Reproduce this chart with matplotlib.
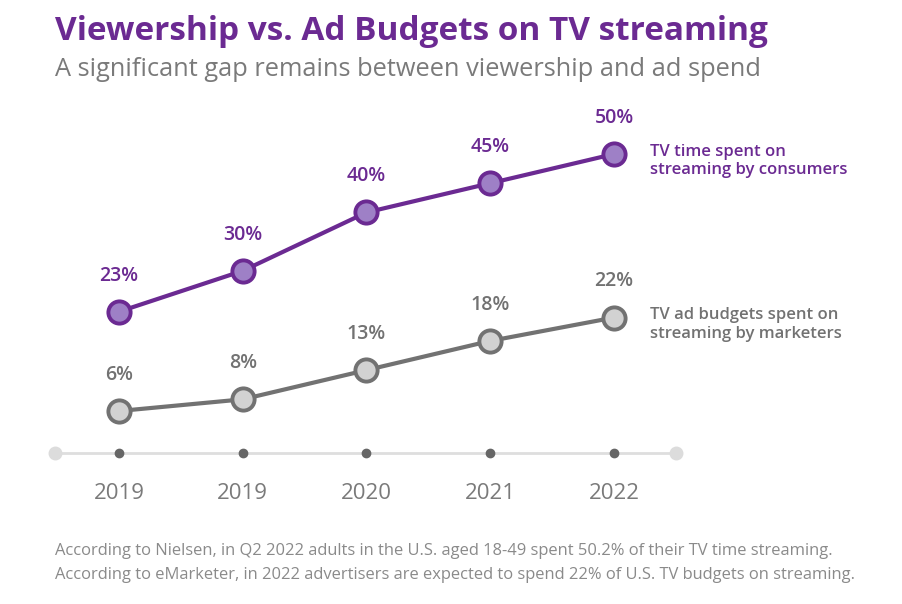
import numpy as np
import matplotlib.pyplot as plt

plt.rcParams['font.family'] = ['Open Sans', 'DejaVu Sans']

years = ['2019', '2019', '2020', '2021', '2022']
viewers = [23, 30, 40, 45, 50]
ad_budget = [6, 8, 13, 18, 22]
viewers_label = 'TV time spent on\nstreaming by consumers'
budget_label = 'TV ad budgets spent on\nstreaming by marketers'

purple = '#6b2a92'
purple_fill = '#9e80c6'
gray = '#727272'
gray_fill = '#d2d2d2'

fig = plt.figure(figsize=(9.02, 6.04), dpi=100)
ax = fig.add_axes([40/902, 134/604, 660/902, 370/604])
ax.set_xlim(-0.638, 4.695)
ax.set_ylim(-4.1, 59.25)
ax.axis('off')

x = np.arange(len(years))

# baseline with end caps and tick dots
base = -1.2
ax.plot([-0.52, 4.5], [base, base], color='#dedede', lw=2, zorder=1)
ax.plot([-0.52, 4.5], [base, base], 'o', ms=9, color='#dcdcdc', zorder=2)
ax.plot(x, [base]*len(x), 'o', ms=6, color='#666666', zorder=3)
for xi, yr in zip(x, years):
	ax.annotate(yr, (xi, base), xytext=(0, -29), textcoords='offset points',
		ha='center', va='center', fontsize=16, color='#7a7a7a')

ax.plot(x, viewers, color=purple, lw=3, marker='o', ms=16,
	mfc=purple_fill, mec=purple, mew=2.8, zorder=5)
ax.plot(x, ad_budget, color=gray, lw=3, marker='o', ms=16,
	mfc=gray_fill, mec=gray, mew=2.8, zorder=5)

for xi, v in zip(x, viewers):
	ax.annotate(f'{v}%', (xi, v), xytext=(0, 26), textcoords='offset points',
		ha='center', va='center', fontsize=14, color=purple, fontweight='semibold')
for xi, v in zip(x, ad_budget):
	ax.annotate(f'{v}%', (xi, v), xytext=(0, 26), textcoords='offset points',
		ha='center', va='center', fontsize=14, color=gray, fontweight='semibold')

ax.annotate(viewers_label, (x[-1], viewers[-1]), xytext=(26, -5), textcoords='offset points',
	ha='left', va='center', fontsize=12, color=purple, fontweight='semibold', linespacing=1.2)
ax.annotate(budget_label, (x[-1], ad_budget[-1]), xytext=(26, -5), textcoords='offset points',
	ha='left', va='center', fontsize=12, color=gray, fontweight='semibold', linespacing=1.2)

fig.text(55/902, 1 - 32/604, 'Viewership vs. Ad Budgets on TV streaming',
	fontsize=24, fontweight='bold', color=purple, va='center')
fig.text(55/902, 1 - 70/604, 'A significant gap remains between viewership and ad spend',
	fontsize=18.3, color='#7a7a7a', va='center')
fig.text(55/902, 1 - 563/604,
	'According to Nielsen, in Q2 2022 adults in the U.S. aged 18-49 spent 50.2% of their TV time streaming.\n'
	'According to eMarketer, in 2022 advertisers are expected to spend 22% of U.S. TV budgets on streaming.',
	fontsize=11.9, color='#8a8a8a', va='center', linespacing=1.7)

fig.savefig('out.png', dpi=100)
